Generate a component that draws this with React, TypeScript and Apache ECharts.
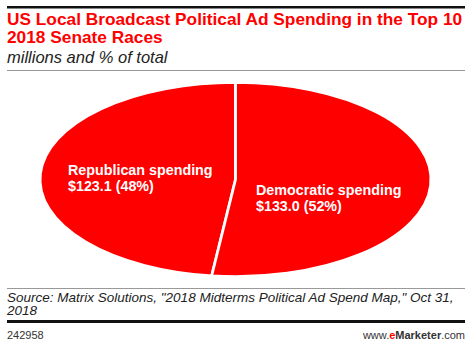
import React, { useEffect, useRef } from "react";
import * as echarts from "echarts";

const categories = ["Republican spending", "Democratic spending"];
const values = [123.1, 133.0];
const shares = [48, 52];

const TITLE_LINES = [
  "US Local Broadcast Political Ad Spending in the Top 10",
  "2018 Senate Races",
];
const SUBTITLE = "millions and % of total";
const SOURCE_LINES = [
  'Source: Matrix Solutions, "2018 Midterms Political Ad Spend Map," Oct 31,',
  "2018",
];
const CHART_ID = "242958";

export default function App() {
  const ref = useRef<HTMLDivElement>(null);
  useEffect(() => {
    document.body.style.margin = "0";
    if (!ref.current) return;
    const chart = echarts.init(ref.current, undefined, { renderer: "svg" });
    const total = values.reduce((a, b) => a + b, 0);
    const cx = 235.5;
    const cy = 179.5;
    const rx = 195.5;
    const ry = 96.5;
    const R = 100;
    const demFrac = values[1] / total;
    const start = -Math.PI / 2;
    const angles = [
      [start + 2 * Math.PI * demFrac, start + 2 * Math.PI],
      [start, start + 2 * Math.PI * demFrac],
    ];
    const labelPos = [
      [68, 162],
      [256, 182],
    ];
    const red = "#ff0000";
    const font = "Liberation Sans, Arial, sans-serif";

    chart.setOption({
      animation: false,
      series: [
        {
          type: "custom",
          coordinateSystem: "none",
          data: values.map((v, i) => ({ value: [v, i], name: categories[i] })),
          renderItem: (params: any, api: any) => {
            const i = params.dataIndex;
            const v = api.value(0);
            const [s, e] = angles[i];
            return {
              type: "group",
              children: [
                {
                  type: "sector",
                  x: cx,
                  y: cy,
                  scaleX: rx / R,
                  scaleY: ry / R,
                  shape: { cx: 0, cy: 0, r0: 0, r: R, startAngle: s, endAngle: e, clockwise: true },
                  style: { fill: red, stroke: "#fff", lineWidth: 2, strokeNoScale: true },
                },
                {
                  type: "text",
                  x: labelPos[i][0],
                  y: labelPos[i][1],
                  style: {
                    text: `${categories[i]}\n$${v.toFixed(1)} (${shares[i]}%)`,
                    fill: "#fff",
                    font: `bold 14.3px ${font}`,
                    lineHeight: 16,
                    verticalAlign: "top",
                  },
                },
              ],
            };
          },
        },
      ],
      graphic: [
        { type: "rect", shape: { x: 7, y: 6, width: 458, height: 2.5 }, style: { fill: "#111" } },
        {
          type: "text",
          x: 7,
          y: 10,
          style: {
            text: TITLE_LINES.join("\n"),
            font: `bold 17.3px ${font}`,
            lineHeight: 18,
            fill: red,
            verticalAlign: "top",
          },
        },
        {
          type: "text",
          x: 7,
          y: 48,
          style: { text: SUBTITLE, font: `italic 16.5px ${font}`, fill: "#222", verticalAlign: "top" },
        },
        { type: "rect", shape: { x: 7, y: 70, width: 458, height: 1 }, style: { fill: "#999" } },
        { type: "rect", shape: { x: 7, y: 288, width: 458, height: 1 }, style: { fill: "#999" } },
        {
          type: "text",
          x: 7,
          y: 290,
          style: {
            text: SOURCE_LINES[0],
            font: `italic 13.5px ${font}`,
            fill: "#222",
            verticalAlign: "top",
          },
        },
        {
          type: "text",
          x: 7,
          y: 303.8,
          style: {
            text: SOURCE_LINES[1],
            font: `italic 13.5px ${font}`,
            fill: "#222",
            verticalAlign: "top",
          },
        },
        { type: "rect", shape: { x: 7, y: 320, width: 458, height: 3 }, style: { fill: "#111" } },
        {
          type: "text",
          x: 7,
          y: 329,
          style: { text: CHART_ID, font: `11px ${font}`, fill: "#333" },
        },
        {
          type: "text",
          x: 465,
          y: 329,
          style: {
            text: "{a|www.}{b|e}{c|Marketer}{a|.com}",
            align: "right",
            rich: {
              a: { font: `11px ${font}`, fill: "#333" },
              b: { font: `bold 11px ${font}`, fill: red },
              c: { font: `bold 11px ${font}`, fill: "#333" },
            },
          },
        },
      ],
    });
    return () => chart.dispose();
  }, []);
  return <div ref={ref} style={{ width: 470, height: 344 }} />;
}
